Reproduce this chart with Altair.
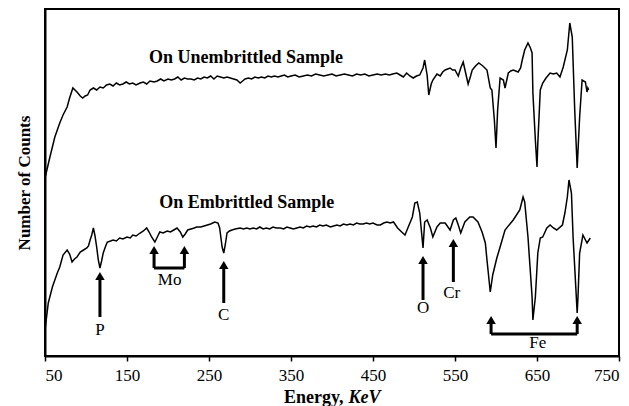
import altair as alt
import pandas as pd

# ---- Upper spectrum (unembrittled) ----
upper_energy = [50, 56, 62, 68, 72, 77, 80, 84, 89, 93, 96, 99, 102, 105, 109, 113, 117, 121, 125, 129,
                133, 137, 141, 145, 149, 153, 157, 161, 166, 170, 174, 178, 183, 187, 191, 195, 200, 204,
                208, 212, 216, 220, 224, 228, 232, 236, 240, 244, 248, 252, 256, 260, 264, 268, 272, 276,
                280, 284, 288, 291, 294, 298, 302, 306, 310, 314, 318, 322, 326, 330, 334, 338, 342, 346,
                350, 355, 360, 365, 370, 375, 380, 385, 390, 395, 400, 405, 410, 415, 420, 425, 430, 435,
                440, 445, 450, 455, 460, 465, 470, 474, 479, 483, 487, 491, 495, 499, 503, 507, 511, 513,
                516, 518, 521, 523, 528, 532, 535, 538, 541, 544, 547, 550, 554, 557, 560, 563, 566, 569,
                571, 575, 579, 584, 589, 593, 595, 598, 600, 602, 605, 609, 611, 615, 618, 621, 624, 627,
                630, 632, 635, 639, 642, 644, 645, 648, 650, 651, 654, 657, 661, 666, 670, 674, 678, 682,
                687, 690, 693, 696, 699, 702, 705, 709, 711, 712, 713]
upper_counts = [178, 199, 219, 233, 241, 249, 258, 268, 264, 260, 258, 260, 261, 266, 268, 266, 269, 268, 271, 272,
                270, 273, 271, 272, 274, 272, 273, 271, 273, 274, 272, 275, 274, 275, 277, 275, 277, 276,
                277, 279, 276, 278, 277, 277, 276, 278, 277, 279, 278, 280, 277, 280, 279, 278, 279, 278,
                277, 276, 273, 275, 277, 278, 277, 279, 278, 279, 278, 280, 279, 280, 279, 280, 281, 279,
                280, 281, 279, 280, 281, 280, 282, 281, 280, 281, 282, 280, 281, 282, 281, 280, 282, 281,
                282, 280, 281, 282, 281, 282, 281, 282, 283, 281, 279, 283, 280, 278, 280, 281, 288, 296,
                281, 261, 272, 276, 282, 280, 284, 286, 287, 288, 286, 286, 280, 288, 294, 283, 272, 280,
                286, 290, 293, 290, 286, 268, 266, 236, 208, 246, 278, 276, 268, 283, 285, 286, 285, 284,
                288, 296, 306, 313, 308, 303, 263, 216, 189, 213, 266, 273, 278, 283, 282, 283, 279, 289,
                306, 333, 319, 246, 188, 239, 276, 274, 264, 268, 266]

# ---- Lower spectrum (embrittled) ----
lower_energy = [50, 54, 59, 65, 68, 72, 77, 80, 83, 86, 89, 93, 97, 101, 103, 105, 107, 109, 111, 113, 115, 117,
                119, 121, 124, 126, 130, 133, 137, 141, 145, 150, 154, 157, 161, 166, 170, 174, 177, 180,
                184, 187, 190, 194, 199, 203, 207, 211, 213, 215, 218, 221, 224, 228, 232, 235, 240, 244,
                248, 252, 257, 261, 263, 266, 268, 270, 272, 275, 278, 282, 288, 292, 296, 300, 304, 308,
                312, 316, 320, 324, 328, 332, 337, 341, 345, 349, 353, 357, 361, 365, 369, 373, 377, 381,
                385, 389, 393, 398, 402, 406, 410, 414, 418, 422, 426, 430, 434, 438, 442, 446, 450, 455,
                459, 463, 467, 471, 475, 480, 485, 489, 493, 498, 501, 504, 507, 511, 513, 516, 520, 523,
                528, 532, 538, 544, 548, 551, 554, 557, 562, 568, 572, 578, 583, 587, 589, 593, 596, 601,
                605, 611, 621, 629, 633, 635, 639, 644, 645, 648, 651, 654, 657, 662, 666, 670, 674, 681,
                684, 687, 689, 692, 694, 699, 700, 702, 706, 711, 715]
lower_counts = [26, 53, 69, 83, 89, 101, 106, 102, 94, 97, 99, 104, 106, 108, 110, 116, 121, 128, 120, 109, 96, 88,
                95, 103, 110, 114, 115, 116, 115, 118, 117, 119, 118, 121, 120, 123, 125, 128, 124, 119,
                114, 119, 124, 123, 125, 124, 126, 128, 126, 124, 119, 122, 126, 127, 128, 129, 129, 130,
                131, 132, 134, 133, 128, 109, 103, 112, 123, 125, 126, 127, 128, 127, 128, 127, 128, 127,
                129, 127, 128, 127, 129, 128, 128, 127, 129, 128, 127, 128, 129, 128, 130, 129, 130, 129,
                131, 130, 131, 129, 130, 131, 130, 132, 131, 132, 131, 133, 132, 132, 133, 132, 133, 131,
                131, 133, 134, 133, 134, 128, 124, 121, 129, 139, 153, 154, 143, 108, 134, 136, 128, 119,
                129, 133, 133, 126, 136, 138, 131, 123, 134, 139, 139, 134, 124, 113, 96, 64, 81, 98,
                109, 126, 136, 146, 159, 154, 119, 59, 36, 59, 103, 118, 119, 128, 131, 128, 126, 131,
                143, 159, 176, 163, 119, 43, 59, 103, 121, 113, 118]

# ---- Annotations ----
label_text = ["On Unembrittled Sample", "On Embrittled Sample"]
label_energy = [295, 296]
label_counts = [293, 148]

elem_text = ["P", "Mo", "C", "O", "Cr", "Fe"]
elem_energy = [117, 202, 268, 511, 546, 651]
elem_counts = [26, 76, 41, 48, 63, 13]

# arrow segments: (x, x2, y, y2)
seg_x = [117, 183, 220, 183, 268, 511, 548, 594, 699, 594]
seg_x2 = [117, 183, 220, 220, 268, 511, 548, 594, 699, 699]
seg_y = [39, 88, 88, 88, 53, 56, 74, 22, 22, 22]
seg_y2 = [78, 104, 104, 88, 89, 94, 111, 34, 34, 22]
# arrow heads
head_x = [117, 183, 220, 268, 511, 548, 594, 699]
head_y = [80, 106, 106, 91, 96, 113, 36, 36]

xlab_text = ["Energy,", "KeV"]
xlab_energy = [414, 420]
xlab_counts = [-42, -42]

spec = pd.concat([
    pd.DataFrame({"energy": upper_energy, "counts": upper_counts, "series": "Unembrittled"}),
    pd.DataFrame({"energy": lower_energy, "counts": lower_counts, "series": "Embrittled"}),
])

FONT = "Liberation Serif"
xscale = alt.Scale(domain=[50, 750], nice=False, zero=False)
yscale = alt.Scale(domain=[0, 347], nice=False, zero=False)

lines = alt.Chart(spec).mark_line(color="black", strokeWidth=1.5).encode(
    x=alt.X("energy:Q", scale=xscale,
            axis=alt.Axis(values=[50, 150, 250, 350, 450, 550, 650, 750], title=None,
                          labelFont=FONT, labelFontSize=17, labelColor="black",
                          tickSize=5, tickColor="black", tickWidth=1.5,
                          domainColor="black", domainWidth=2, grid=False, labelPadding=6)),
    y=alt.Y("counts:Q", scale=yscale,
            axis=alt.Axis(labels=False, ticks=False, grid=False, title="Number of Counts",
                          titleFont=FONT, titleFontSize=17, titleFontWeight="bold", titleColor="black",
                          titlePadding=12, domainColor="black", domainWidth=2)),
    detail="series:N",
)

labels = alt.Chart(pd.DataFrame({"t": label_text, "e": label_energy, "c": label_counts})).mark_text(
    font=FONT, fontSize=18, fontWeight="bold", color="black", baseline="alphabetic", align="center"
).encode(x=alt.X("e:Q", scale=xscale), y=alt.Y("c:Q", scale=yscale), text="t:N")

elems = alt.Chart(pd.DataFrame({"t": elem_text, "e": elem_energy, "c": elem_counts})).mark_text(
    font=FONT, fontSize=17, color="black", baseline="middle", align="center"
).encode(x=alt.X("e:Q", scale=xscale), y=alt.Y("c:Q", scale=yscale), text="t:N")

segs = alt.Chart(pd.DataFrame({"x": seg_x, "x2": seg_x2, "y": seg_y, "y2": seg_y2})).mark_rule(
    color="black", strokeWidth=3
).encode(x=alt.X("x:Q", scale=xscale), x2="x2:Q", y=alt.Y("y:Q", scale=yscale), y2="y2:Q")

heads = alt.Chart(pd.DataFrame({"x": head_x, "y": head_y})).mark_point(
    shape="triangle-up", filled=True, color="black", opacity=1, size=90
).encode(x=alt.X("x:Q", scale=xscale), y=alt.Y("y:Q", scale=yscale))

xlab1 = alt.Chart(pd.DataFrame({"t": [xlab_text[0]], "e": [xlab_energy[0]], "c": [xlab_counts[0]]})).mark_text(
    font=FONT, fontSize=18, fontWeight="bold", color="black", baseline="middle", align="right"
).encode(x=alt.X("e:Q", scale=xscale), y=alt.Y("c:Q", scale=yscale), text="t:N")
xlab2 = alt.Chart(pd.DataFrame({"t": [xlab_text[1]], "e": [xlab_energy[1]], "c": [xlab_counts[1]]})).mark_text(
    font=FONT, fontSize=18, fontWeight="bold", fontStyle="italic", color="black",
    baseline="middle", align="left"
).encode(x=alt.X("e:Q", scale=xscale), y=alt.Y("c:Q", scale=yscale), text="t:N")

chart = alt.layer(lines, labels, elems, segs, heads, xlab1, xlab2).properties(
    width=574, height=347,
    autosize=alt.AutoSizeParams(type="none"),
    padding={"left": 45, "top": 9, "right": 10, "bottom": 50},
    background="white",
).configure_view(stroke="black", strokeWidth=2)

chart.save("out.html", embed_options={"renderer": "svg", "actions": False})
